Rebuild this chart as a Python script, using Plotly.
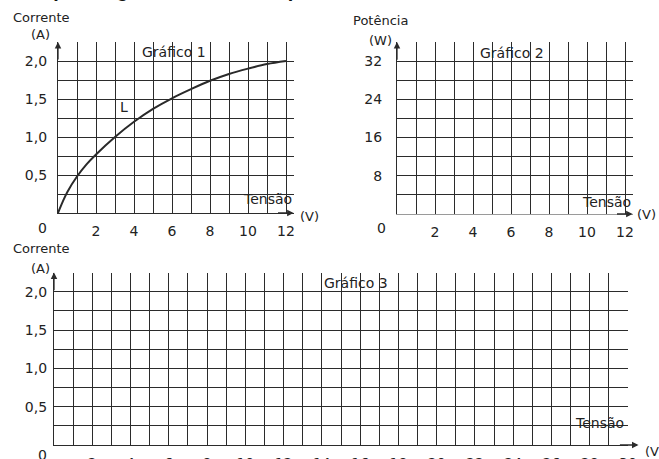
import plotly.graph_objects as go

W, H = 659, 459

# ---------------- data ----------------
tensao_l = [0, 0.25, 0.5, 1, 1.5, 2, 3, 4, 5, 6, 7, 8, 9, 10, 11, 12]
corrente_l = [0, 0.15, 0.28, 0.48, 0.64, 0.77, 1.0, 1.2, 1.37, 1.51, 1.63, 1.74, 1.83, 1.9, 1.96, 2.0]

x12_vals = list(range(0, 13))
x12_text = ["" if (v % 2 or v == 0) else str(v) for v in x12_vals]
x30_vals = list(range(0, 31))
x30_text = ["" if (v % 2 or v == 0) else str(v) for v in x30_vals]

yA_vals = [0, 0.25, 0.5, 0.75, 1.0, 1.25, 1.5, 1.75, 2.0, 2.25]
yA_text = ["", "", "0,5", "", "1,0", "", "1,5", "", "2,0", ""]
yW_vals = [0, 4, 8, 12, 16, 20, 24, 28, 32, 36]
yW_text = ["", "", "8", "", "16", "", "24", "", "32", ""]

FONT = "DejaVu Sans"
FS = 14
INK = "#222222"
GRID = "#2b2b2b"


def px(x):
    return x / W


def py(y):
    return 1 - y / H


fig = go.Figure()
fig.add_trace(go.Scatter(x=tensao_l, y=corrente_l, mode="lines",
                         line=dict(color="#2a2a2a", width=2, shape="spline"),
                         xaxis="x", yaxis="y", showlegend=False, hoverinfo="skip"))
# invisible traces to activate the other subplots
fig.add_trace(go.Scatter(x=[0], y=[0], mode="markers", marker=dict(opacity=0),
                         xaxis="x2", yaxis="y2", showlegend=False, hoverinfo="skip"))
fig.add_trace(go.Scatter(x=[0], y=[0], mode="markers", marker=dict(opacity=0),
                         xaxis="x3", yaxis="y3", showlegend=False, hoverinfo="skip"))


def xax(domain, rng, vals, text, anchor, linecolor=GRID):
    return dict(domain=domain, range=rng, tickmode="array", tickvals=vals, ticktext=text,
                showgrid=True, gridcolor=GRID, gridwidth=1.3, zeroline=False,
                showline=True, linecolor=linecolor, linewidth=1.3,
                ticks="outside", ticklen=5, tickcolor="rgba(0,0,0,0)",
                tickfont=dict(family=FONT, size=FS, color=INK), anchor=anchor,
                fixedrange=True, automargin=False)


def yax(domain, rng, vals, text, anchor, tl):
    return dict(domain=domain, range=rng, tickmode="array", tickvals=vals, ticktext=text,
                showgrid=True, gridcolor=GRID, gridwidth=1.3, zeroline=False,
                showline=True, linecolor=GRID, linewidth=1.3,
                ticks="outside", ticklen=tl, tickcolor="rgba(0,0,0,0)",
                tickfont=dict(family=FONT, size=FS, color=INK), anchor=anchor,
                fixedrange=True, automargin=False)


layout = dict(
    width=W, height=H, margin=dict(l=0, r=0, t=0, b=0, autoexpand=False),
    paper_bgcolor="white", plot_bgcolor="white", showlegend=False,
    xaxis=xax([px(58), px(58 + 12.4 * 19)], [0, 12.4], x12_vals, x12_text, "y"),
    yaxis=yax([py(213), py(42)], [0, 2.2505], yA_vals, yA_text, "x", 7),
    xaxis2=xax([px(397), px(397 + 12.4 * 19)], [0, 12.4], x12_vals, x12_text, "y2",
               linecolor="#9a9a9a"),
    yaxis2=yax([py(214), py(42)], [0, 36.01], yW_vals, yW_text, "x2", 11),
    xaxis3=xax([px(54), px(628)], [0, 30], x30_vals, x30_text, "y3"),
    yaxis3=yax([py(445), py(272.5)], [0, 2.2505], yA_vals, yA_text, "x3", 3),
)
fig.update_layout(**layout)

ann = []


def txt(text, x, y, xref="paper", yref="paper", size=FS, family=FONT, color=INK,
        xanchor="center", yanchor="middle"):
    ann.append(dict(text=text, x=x, y=y, xref=xref, yref=yref, showarrow=False,
                    xanchor=xanchor, yanchor=yanchor,
                    font=dict(family=family, size=size, color=color)))


def arrow(x, y, ax, ay, xr, yr):
    ann.append(dict(x=x, y=y, ax=ax, ay=ay, xref=xr, yref=yr, axref=xr, ayref=yr,
                    showarrow=True, arrowhead=2, arrowsize=1, arrowwidth=1.3,
                    arrowcolor=GRID, text=""))


# clipped heading at the very top
txt("<b>Esquema gráfico da sua resposta</b>", px(20), py(3), size=20,
    family="Liberation Sans", color="#111", xanchor="left", yanchor="bottom")

# chart 1
txt("Corrente", px(41), py(18), size=13)
txt("(A)", px(40), py(34), size=13)
txt("0", px(42), py(228))
txt("(V)", px(309), py(216), size=13)
txt("Gráfico 1", 6.1, 2.12, "x", "y")
txt("L", 3.45, 1.40, "x", "y")
txt("Tensão", 11.05, 0.18, "x", "y")
arrow(12.4, 0, 11.5, 0, "x", "y")
arrow(0, 2.2505, 0, 2.0, "x", "y")

# chart 2
txt("Potência", px(380), py(20), size=13)
txt("(W)", px(380), py(40), size=13)
txt("0", px(381), py(228))
txt("(V)", px(646), py(214), size=13)
txt("Gráfico 2", 6.05, 33.7, "x2", "y2")
txt("Tensão", 11.0, 2.6, "x2", "y2")
arrow(12.4, 0, 11.5, 0, "x2", "y2")
arrow(0, 36.01, 0, 32, "x2", "y2")

# chart 3
txt("Corrente", px(41), py(249), size=13)
txt("(A)", px(40), py(268), size=13)
txt("0", px(42), py(455))
txt("(V)", px(643), py(451), size=13, xanchor="left")
txt("Gráfico 3", 15.8, 2.12, "x3", "y3")
txt("Tensão", 28.5, 0.29, "x3", "y3")
arrow(30.55, 0, 29.5, 0, "x3", "y3")
arrow(0, 2.2505, 0, 2.0, "x3", "y3")

fig.update_layout(annotations=ann)
fig.write_html("out.html", config={"displayModeBar": False},
               post_script="document.body.style.margin='0';")
